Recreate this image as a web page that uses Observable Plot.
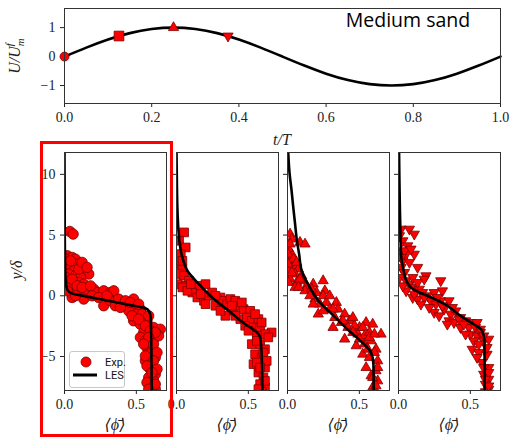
<!DOCTYPE html>
<html><head><meta charset="utf-8">
<script src="https://cdn.jsdelivr.net/npm/d3@7"></script>
<script src="https://cdn.jsdelivr.net/npm/@observablehq/plot@0.6"></script>
<style>
body{margin:0;background:#fff;}
#root{position:relative;width:510px;height:439px;overflow:hidden;background:#fff;}
#root svg{position:absolute;background:transparent;overflow:visible;max-width:none;}
</style></head><body><div id="root"></div>
<script>
// ---- top panel: forcing velocity ----
const sineT = [0,0.05,0.1,0.15,0.2,0.25,0.3,0.35,0.4,0.45,0.5,0.55,0.6,0.65,0.7,0.75,0.8,0.85,0.9,0.95,1.0];
const sineU = [0,0.31,0.59,0.81,0.95,1.0,0.95,0.81,0.59,0.31,0,-0.31,-0.59,-0.81,-0.95,-1.0,-0.95,-0.81,-0.59,-0.31,0];
const phaseT = [0, 0.125, 0.25, 0.375];
const phaseU = [0, 0.71, 1.0, 0.71];
const xTicksTop = [0,0.2,0.4,0.6,0.8,1.0];
const yTicksTop = [-1,0,1];

// ---- bottom panels: experimental points (phi, y/delta) ----
const expPhi1 = [0.037,0.060,0.019,0.053,0.076,0.019,0.042,0.088,0.019,0.065,0.146,0.169,0.030,0.076,0.111,0.019,0.065,0.100,0.134,0.042,0.088,0.146,0.204,0.227,0.273,0.319,0.343,0.053,0.134,0.273,0.319,0.354,0.400,0.435,0.481,0.493,0.447,0.528,0.505,0.551,0.481,0.528,0.574,0.620,0.667,0.644,0.597,0.551,0.528,0.563,0.620,0.655,0.574,0.609,0.586,0.632,0.563,0.609,0.597,0.632,0.586,0.620,0.597,0.632,0.609,
  0.007,0.042,0.100,0.123,0.157,0.007,0.053,0.088,0.123,0.181,0.019,0.076,0.192,0.238,0.296,0.377,0.424,0.458,0.389,0.516,0.470,0.539,0.586,0.516,0.563,0.597,0.632,0.586,0.551,0.620,0.644,0.563,0.620,0.574,0.644,0.609,0.574,0.632,0.586];
const expY1 = [5.30,5.08,3.30,3.16,3.02,2.75,2.61,2.61,2.20,2.06,2.06,1.79,1.79,1.65,1.51,1.24,1.10,1.10,0.96,0.69,0.41,0.41,0.55,0.27,0.41,0.27,0.41,-0.14,-0.27,-0.82,-0.41,-0.82,-0.69,-0.82,-0.27,-0.96,-1.24,-1.10,-1.51,-1.79,-2.06,-2.34,-2.06,-2.61,-2.75,-3.16,-3.16,-3.02,-3.43,-3.71,-3.57,-3.30,-4.26,-4.53,-4.81,-5.08,-5.36,-5.63,-6.04,-6.46,-6.73,-7.01,-7.42,-7.69,-7.9,
  3.02,2.88,2.20,2.75,2.34,1.51,1.37,0.82,0.69,0.82,0.41,0,0,-0.14,0,-0.27,-0.41,-0.55,-0.96,-0.69,-1.65,-1.51,-1.65,-1.92,-2.47,-2.88,-3.02,-3.43,-3.98,-3.98,-4.67,-4.95,-5.36,-5.77,-6.04,-6.32,-7.14,-7.28,-7.69];
const expPhi2 = [0.053,0.018,0.064,0.030,0.018,0.041,0.018,0.053,0.087,0.064,0.099,0.133,0.156,0.202,0.110,0.145,0.191,0.225,0.248,0.306,0.271,0.317,0.352,0.375,0.409,0.340,0.398,0.432,0.467,0.513,0.444,0.490,0.524,0.570,0.478,0.536,0.582,0.662,0.616,0.559,0.524,0.582,0.616,0.547,0.593,0.536,0.616,0.570,0.605,0.582,0.616,0.593,
  0.041,0.007,0.041,0.076,0.168,0.099,0.271,0.202,0.386,0.455,0.306,0.409,0.547,0.593,0.501,0.639,0.559,0.605,0.559,0.628,0.582,0.616,0.570];
const expY2 = [5.22,4.53,3.98,3.43,2.61,2.20,1.79,1.65,1.24,0.82,0.69,0.41,0.82,0.96,0.27,-0.14,-0.41,0,0.27,-0.14,-0.82,-0.41,-0.69,-0.27,-0.41,-1.65,-1.24,-0.82,-1.10,-1.24,-1.92,-1.79,-2.06,-1.92,-2.47,-2.61,-2.61,-3.02,-3.16,-3.30,-3.98,-3.98,-4.40,-4.81,-5.08,-5.63,-5.91,-6.32,-6.73,-7.28,-7.55,-7.9,
  2.88,0.96,0.69,0.41,0.14,0.96,0,-0.69,-0.82,-0.55,-1.24,-1.65,-1.51,-2.20,-2.88,-3.43,-3.71,-4.67,-5.49,-5.36,-5.91,-7.01,-7.69];
const expPhi3 = [0.018,0.030,0.087,0.122,0.007,0.030,0.005,0.010,0.018,0.041,0.007,0.076,0.053,0.099,0.018,0.064,0.110,0.133,0.179,0.248,0.053,0.122,0.202,0.260,0.191,0.248,0.225,0.271,0.340,0.294,0.352,0.214,0.329,0.398,0.432,0.455,0.317,0.375,0.421,0.501,0.547,0.593,0.490,0.398,0.536,0.570,0.651,0.478,0.536,0.582,0.616,0.524,0.570,0.628,0.547,0.616,0.582,0.628,0.593,0.616,
  0.018,0.004,0.041,0.004,0.064,0.030,0.007,0.087,0.076,0.168,0.156,0.294,0.179,0.317,0.248,0.386,0.467,0.524,0.455,0.570,0.605,0.501,0.559,0.605,0.628,0.593,0.616];
const expY3 = [5.08,4.67,4.40,4.26,3.71,3.43,3.90,3.20,2.88,2.47,2.06,2.20,1.79,1.65,1.37,1.10,1.24,0.82,0.96,1.24,0.69,0.41,0.27,0.41,-0.27,0,-0.69,-0.55,-0.55,-1.10,-1.10,-1.51,-1.79,-1.51,-2.06,-1.79,-2.61,-2.20,-2.61,-2.61,-2.20,-2.34,-3.16,-3.57,-3.30,-3.02,-3.16,-4.12,-3.98,-3.71,-4.40,-4.81,-5.08,-5.36,-5.91,-6.18,-6.59,-7.01,-7.55,-7.9,
  4.26,3.43,3.02,2.61,2.75,1.92,1.10,1.37,0.69,0.55,0,0,-0.69,-1.10,-1.24,-2.06,-2.47,-2.61,-3.02,-3.43,-3.16,-3.57,-4.40,-4.67,-5.91,-6.73,-7.42];
const expPhi4 = [0.018,0.076,0.110,0.030,0.064,0.007,0.053,0.110,0.030,0.076,0.133,0.018,0.041,0.191,0.179,0.294,0.076,0.110,0.145,0.053,0.099,0.168,0.202,0.248,0.306,0.133,0.225,0.260,0.294,0.352,0.248,0.317,0.363,0.398,0.432,0.352,0.386,0.467,0.501,0.432,0.490,0.536,0.501,0.547,0.570,0.524,0.593,0.628,0.513,0.559,0.616,0.582,0.628,0.593,0.628,0.605,0.628,0.605,
  0.007,0.041,0.087,0.018,0.007,0.053,0.099,0.030,0.133,0.110,0.179,0.271,0.156,0.214,0.306,0.283,0.375,0.421,0.340,0.455,0.547,0.570,0.467,0.593,0.559,0.616,0.547,0.593,0.628,0.605,0.628];
const expY4 = [5.49,5.49,5.08,4.53,4.12,3.57,3.43,3.43,2.88,2.75,2.34,2.34,1.92,1.65,1.37,1.24,0.96,0.69,0.55,0.41,-0.14,0.27,0,0.27,0.41,-0.27,-0.41,-0.69,-0.41,-0.41,-1.37,-1.10,-1.51,-1.24,-1.79,-2.06,-2.20,-2.06,-2.20,-2.61,-2.61,-2.61,-3.16,-3.30,-3.02,-3.71,-3.71,-3.57,-4.40,-4.67,-4.81,-5.49,-5.91,-6.46,-6.87,-7.28,-7.69,-7.9,
  4.95,3.71,3.85,3.16,1.51,1.24,1.51,0.82,1.10,0.14,-0.14,-0.14,-0.69,-0.96,-0.82,-1.65,-0.96,-1.92,-2.34,-2.34,-2.20,-2.75,-3.16,-3.30,-3.98,-4.26,-5.08,-5.91,-6.32,-6.87,-7.42];

// ---- bottom panels: LES profiles ----
const lesPhi1 = [0,0.002,0.005,0.01,0.02,0.05,0.15,0.30,0.45,0.56,0.59,0.60,0.603,0.605,0.607];
const lesY1   = [11.8,5,2,1.0,0.5,0.2,-0.05,-0.4,-0.75,-1.0,-1.3,-1.8,-3,-5,-7.8];
const lesPhi2 = [0,0.003,0.006,0.013,0.02,0.04,0.076,0.156,0.248,0.363,0.478,0.547,0.582,0.593,0.598];
const lesY2   = [11.8,9,7.3,5.5,4.5,3.2,2.06,0.96,-0.14,-1.24,-2.34,-2.88,-3.43,-4.8,-7.8];
const lesPhi3 = [0.005,0.015,0.028,0.04,0.052,0.066,0.08,0.099,0.156,0.225,0.30,0.43,0.53,0.582,0.598,0.60];
const lesY3   = [11.8,10,8.7,7.3,6.0,4.5,3.5,2.06,0.69,-0.55,-1.4,-2.9,-3.95,-4.67,-5.63,-7.8];
const lesPhi4 = [0.004,0.007,0.01,0.013,0.018,0.03,0.041,0.06,0.087,0.14,0.202,0.34,0.432,0.524,0.582,0.598,0.60];
const lesY4   = [11.8,9,7,5.5,3.4,2.4,1.79,1.1,0.69,0.3,0,-0.82,-1.65,-2.34,-2.88,-3.71,-7.8];

const yTicksBottom = [-5,0,5,10];
const xTicksBottom = [0,0.5];
const legendLabels = ["Exp.","LES"];

const RED = "#ff0000", DARK = "#7a0000";
const triDown = {draw(ctx, size){ const s3 = Math.sqrt(3); const y = -Math.sqrt(size/(s3*3)); ctx.moveTo(0,-y*2); ctx.lineTo(-s3*y, y); ctx.lineTo(s3*y, y); ctx.closePath(); }};
const root = document.getElementById("root");
const font = "'Liberation Serif','DejaVu Serif',serif";
const baseStyle = {fontFamily: font, fontSize: "14px", background: "transparent", color: "#222", overflow: "visible"};

function place(svg, left, top){
  svg.style.left = left+"px"; svg.style.top = top+"px";
  d3.select(svg).selectAll("text").style("font-family", font).style("font-size","14px");
  root.appendChild(svg); return svg;
}
function addText(svg, x, y, txt, opts={}){
  const t = d3.select(svg).append("text").attr("x",x).attr("y",y).attr("text-anchor", opts.anchor||"middle")
    .style("font-family", opts.family||font).style("font-size", (opts.size||16)+"px").attr("fill", opts.fill||"#222");
  if (opts.italic!==false) t.style("font-style","italic");
  if (opts.rotate) t.attr("transform", `rotate(-90 ${x} ${y})`);
  t.text(txt); return t;
}

// top plot
{
  const sine = sineT.map((t,i)=>({t, u: sineU[i]}));
  const syms = ["circle","square","triangle",triDown];
  const rs = [4.5,5.5,3.8,3.8];
  const ph = phaseT.map((t,i)=>({t, u: phaseU[i], s: i}));
  const svg = Plot.plot({
    width: 510, height: 148, marginLeft: 64, marginRight: 10, marginTop: 8, marginBottom: 45,
    style: baseStyle,
    x: {domain:[0,1], ticks: xTicksTop, tickFormat: d3.format(".1f"), tickSize: 4, label: null},
    y: {domain:[-1.62,1.66], ticks: yTicksTop, tickFormat: d3.format("d"), tickSize: 4, label: null},
    marks: [
      Plot.line(sine, {x:"t", y:"u", stroke:"#000", strokeWidth:2.6, curve:"natural"}),
      ...ph.map(d => Plot.dot([d], {x:"t", y:"u", symbol: syms[d.s], r: rs[d.s], fill: RED, stroke: DARK, strokeWidth: 0.8})),
      Plot.frame({stroke:"#333"})
    ]
  });
  place(svg, 0, 0);
  addText(svg, 282, 145, "t/T");
  const lab = d3.select(svg).append("text").attr("transform","translate(20,56) rotate(-90)").attr("text-anchor","middle")
    .style("font-family", font).style("font-style","italic").style("font-size","16px").attr("fill","#222");
  lab.append("tspan").text("U/U");
  lab.append("tspan").style("font-size","11px").attr("dy",4).text("m");
  lab.append("tspan").style("font-size","11px").attr("dx",-8).attr("dy",-11).text("f");
  d3.select(svg).append("text").attr("x",408).attr("y",27).attr("text-anchor","middle")
    .style("font-family","'Open Sans',sans-serif").style("font-size","19.5px").attr("fill","#000").text("Medium sand");
}

// bottom panels
const expPhi = [expPhi1,expPhi2,expPhi3,expPhi4], expY = [expY1,expY2,expY3,expY4];
const lesPhi = [lesPhi1,lesPhi2,lesPhi3,lesPhi4], lesY = [lesY1,lesY2,lesY3,lesY4];
const frameLefts = [64,176,287,398];
const symbols = ["circle","square","triangle",triDown];
const radii = [5.2,4.9,3.8,3.8];
for (let k=0;k<4;k++){
  const showY = k===0;
  const ml = showY ? 64 : 14, fw = 102;
  const exp = expPhi[k].map((x,j)=>({x, y: expY[k][j]}));
  const les = lesPhi[k].map((x,j)=>({x, y: lesY[k][j]}));
  const svg = Plot.plot({
    width: ml + fw + 12, height: 300, marginLeft: ml, marginRight: 12, marginTop: 12, marginBottom: 50,
    style: baseStyle,
    x: {domain:[0,0.71], ticks: xTicksBottom, tickFormat: d3.format(".1f"), tickSize: 4, label: null},
    y: {domain:[-7.8,11.8], ticks: yTicksBottom, tickSize: 4, label: null, tickFormat: showY ? d3.format("d") : () => ""},
    marks: [
      Plot.dot(exp, {x:"x", y:"y", symbol: symbols[k], r: radii[k], fill: RED, stroke: DARK, strokeWidth: 0.8, clip: true}),
      Plot.line(les, {x:"x", y:"y", stroke:"#000", strokeWidth:2.6, curve:"monotone-y", clip: true}),
      Plot.frame({stroke:"#333"})
    ]
  });
  place(svg, frameLefts[k]-ml, 140);
  addText(svg, ml + fw/2, 290, "\u27E8\u03D5\u0304\u27E9");
  if (showY) addText(svg, 22, 130, "y/\u03B4", {rotate: true});
}

// legend (panel 1)
{
  const lg = document.createElement("div");
  lg.style.cssText = "position:absolute;left:69px;top:351px;width:56px;height:37px;box-sizing:border-box;border:1px solid #c8c8c8;border-radius:3px;background:rgba(255,255,255,0.9);";
  lg.innerHTML = `<svg width="56" height="37" style="position:absolute;left:-1px;top:-1px;overflow:visible">
    <circle cx="17" cy="11" r="5" fill="${RED}" stroke="${DARK}" stroke-width="0.8"></circle>
    <line x1="4" x2="28" y1="24" y2="24" stroke="#000" stroke-width="3"></line>
    <text x="36" y="15" style="font-family:Roboto,sans-serif;font-size:11px" fill="#111">${legendLabels[0]}</text>
    <text x="36" y="28" style="font-family:Roboto,sans-serif;font-size:11px" fill="#111">${legendLabels[1]}</text></svg>`;
  root.appendChild(lg);
}

// red highlight box around panel 1
{
  const box = document.createElement("div");
  box.style.cssText = "position:absolute;left:40px;top:141px;width:133px;height:296px;box-sizing:border-box;border:3px solid #ff0000;";
  root.appendChild(box);
}
</script></body></html>
